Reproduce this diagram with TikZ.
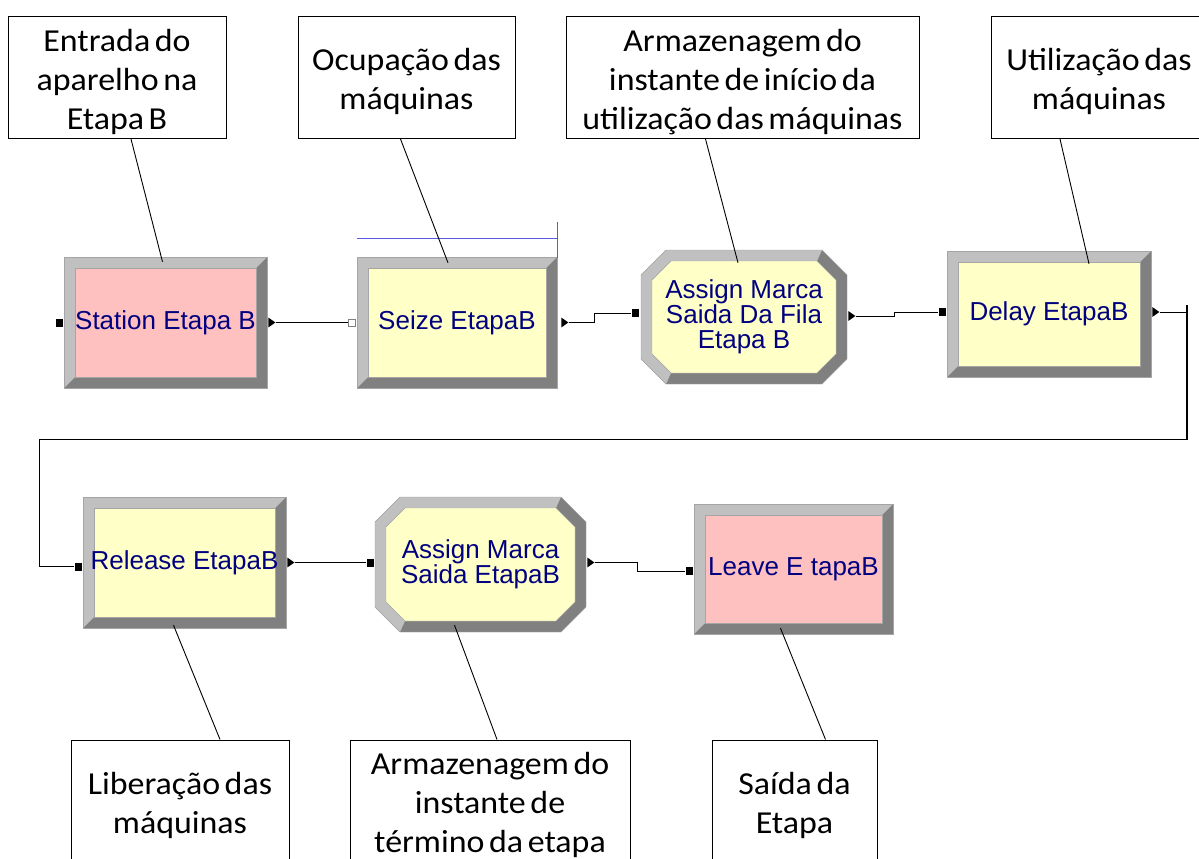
\documentclass[tikz,border=0pt]{standalone}
\usepackage{fontspec}
\usepackage{tikz}
\usetikzlibrary{shapes.geometric}
\newfontfamily\labelfont[FakeStretch=1.06, WordSpace=0.6]{Carlito}
\newfontfamily\modfont{Liberation Sans}
\definecolor{bevlight}{RGB}{192,192,192}
\definecolor{bevdark}{RGB}{128,128,128}
\definecolor{bevedge}{RGB}{165,165,165}
\definecolor{modpink}{RGB}{255,192,192}
\definecolor{modyellow}{RGB}{255,255,200}
\definecolor{modtext}{RGB}{0,0,128}
\definecolor{bracketblue}{RGB}{90,90,230}

\newcommand{\nstrut}{\rule{0pt}{31pt}}

\tikzset{
  note/.style={draw=black, line width=1pt, align=center, inner sep=0pt,
    font=\labelfont\fontsize{32}{39}\selectfont},
  module/.style={align=center, inner sep=0pt, text=modtext,
    font=\modfont\fontsize{26}{25}\selectfont},
  inport/.style={rectangle, fill=black, minimum width=7pt, minimum height=8pt, inner sep=0pt},
  inhollow/.style={rectangle, draw=bevdark, fill=white, minimum size=7pt, inner sep=0pt},
  outport/.style={isosceles triangle, fill=black, isosceles triangle apex angle=70,
    minimum size=7pt, inner sep=0pt},
  flow/.style={draw=black, line width=0.9pt}
}

% rectangular module: name, x1, y1, x2, y2, fill, text
\newcommand{\bevrect}[7]{%
  \fill[bevdark] (#2,#3) rectangle (#4,#5);
  \fill[bevlight] (#2,#5) -- (#2,#3) -- (#4,#3) -- (#4-11,#3+11) -- (#2+11,#3+11) -- (#2+11,#5-11) -- cycle;
  \draw[bevedge, fill=#6] (#2+11,#3+11) rectangle (#4-11,#5-11);
  \draw[bevedge] (#2,#3) rectangle (#4,#5);
  \node[module, minimum width={(#4-#2)*1pt}, minimum height={(#5-#3)*1pt}] (#1)
    at ({(#2+#4)/2},{(#3+#5)/2}) {#7};
}

% octagon module: name, x1, y1, x2, y2, fill, text
\newcommand{\bevoct}[7]{%
  \coordinate (o1) at (#2+25,#3);   \coordinate (o2) at (#4-25,#3);
  \coordinate (o3) at (#4,#3+25);   \coordinate (o4) at (#4,#5-25);
  \coordinate (o5) at (#4-25,#5);   \coordinate (o6) at (#2+25,#5);
  \coordinate (o7) at (#2,#5-25);   \coordinate (o8) at (#2,#3+25);
  \coordinate (i1) at (#2+30,#3+11); \coordinate (i2) at (#4-30,#3+11);
  \coordinate (i3) at (#4-11,#3+30); \coordinate (i4) at (#4-11,#5-30);
  \coordinate (i5) at (#4-30,#5-11); \coordinate (i6) at (#2+30,#5-11);
  \coordinate (i7) at (#2+11,#5-30); \coordinate (i8) at (#2+11,#3+30);
  \fill[bevdark] (o1) -- (o2) -- (o3) -- (o4) -- (o5) -- (o6) -- (o7) -- (o8) -- cycle;
  \fill[bevlight] (o6) -- (o7) -- (o8) -- (o1) -- (o2) -- (i2) -- (i1) -- (i8) -- (i7) -- (i6) -- cycle;
  \draw[bevedge, fill=#6] (i1) -- (i2) -- (i3) -- (i4) -- (i5) -- (i6) -- (i7) -- (i8) -- cycle;
  \draw[bevedge] (o1) -- (o2) -- (o3) -- (o4) -- (o5) -- (o6) -- (o7) -- (o8) -- cycle;
  \node[module, minimum width={(#4-#2)*1pt}, minimum height={(#5-#3)*1pt}] (#1)
    at ({(#2+#4)/2},{(#3+#5)/2}) {#7};
}

\begin{document}
\begin{tikzpicture}[x=1pt, y=-1pt]
    \clip (0,0) rectangle (1199,859);
    \fill[white] (0,0) rectangle (1199,859);

    % notes
    \node[note, minimum width=218pt, minimum height=122pt] (lab1) at (117,77.5) {\nstrut Entrada do\\aparelho na\\Etapa B};
    \node[note, minimum width=217pt, minimum height=122pt] (lab2) at (406.5,77.5) {\nstrut Ocupação das\\máquinas};
    \node[note, minimum width=353pt, minimum height=122pt] (lab3) at (742.5,77.5) {\nstrut Armazenagem do\\instante de início da\\utilização das máquinas};
    \node[note, minimum width=216pt, minimum height=122pt] (lab4) at (1099,77.5) {\nstrut Utilização das\\máquinas};
    \node[note, minimum width=218pt, minimum height=122pt] (lab5) at (180,801) {\nstrut Liberação das\\máquinas};
    \node[note, minimum width=280pt, minimum height=122pt] (lab6) at (490,801) {\nstrut Armazenagem do\\instante de\\término da etapa};
    \node[note, minimum width=165pt, minimum height=122pt] (lab7) at (794.5,801) {\nstrut Saída da\\Etapa};

    % modules
    \bevrect{stat}{64}{257}{267}{388}{modpink}{Station Etapa B}
    \bevrect{seize}{357}{257}{557}{388}{modyellow}{Seize EtapaB}
    \bevoct{asg1}{641}{250}{847}{384}{modyellow}{Assign Marca\\Saida Da Fila\\Etapa B}
    \bevrect{delay}{947}{251}{1151}{377}{modyellow}{Delay EtapaB}
    \bevrect{rel}{83}{497}{286}{628}{modyellow}{Release EtapaB}
    \bevoct{asg2}{375}{497}{586}{632}{modyellow}{Assign Marca\\Saida EtapaB}
    \bevrect{leave}{694}{504}{893}{634}{modpink}{Leave E tapaB}

    % ports
    \node[inport, anchor=east] (stat-in) at ([xshift=-1pt]stat.west) {};
    \node[outport, anchor=west] (stat-out) at ([xshift=1pt]stat.east) {};
    \node[inhollow, anchor=east] (seize-in) at ([xshift=-1pt]seize.west) {};
    \node[outport, anchor=west] (seize-out) at ([xshift=4pt]seize.east) {};
    \node[inport, anchor=east] (asg1-in) at ([xshift=-2pt,yshift=4pt]asg1.west) {};
    \node[outport, anchor=west] (asg1-out) at ([xshift=1pt,yshift=1pt]asg1.east) {};
    \node[inport, anchor=east] (delay-in) at ([xshift=-1pt,yshift=2pt]delay.west) {};
    \node[outport, anchor=west] (delay-out) at ([xshift=1pt,yshift=2pt]delay.east) {};
    \node[inport, anchor=east] (rel-in) at ([xshift=-1pt,yshift=-4pt]rel.west) {};
    \node[outport, anchor=west] (rel-out) at ([xshift=1pt]rel.east) {};
    \node[inport, anchor=east] (asg2-in) at ([xshift=-1pt,yshift=2pt]asg2.west) {};
    \node[outport, anchor=west] (asg2-out) at ([xshift=1pt,yshift=2pt]asg2.east) {};
    \node[inport, anchor=east] (leave-in) at ([xshift=-1pt,yshift=-2pt]leave.west) {};

    % connections
    \coordinate (turnR) at (1187,439);
    \coordinate (turnL) at (39,439);
    \draw[flow] (stat-out) -- (seize-in);
    \draw[flow] (seize-out) -- ++(30,0) |- (asg1-in);
    \draw[flow] (asg1-out) -- ++(43,0) |- (delay-in);
    \draw[flow] (delay-out) -| (turnR) -- (turnL) |- (rel-in);
    \draw[black, line width=1.6pt] ([yshift=7pt]turnR |- delay-out) -- (turnR);
    \draw[flow] (rel-out) -- (asg2-in);
    \draw[flow] (asg2-out) -- ++(47,0) |- (leave-in);

    % selection bracket over seize
    \draw[bracketblue, line width=1pt] ([yshift=18pt]seize.north west) -- ([yshift=18pt]seize.north east);
    \draw[bracketblue, line width=1pt] ([yshift=35pt]seize.north east) -- ([yshift=-1pt]seize.north east);

    % callouts
    \draw[line width=0.9pt] ([xshift=14pt]lab1.south) -- ([xshift=-3pt,yshift=-5pt]stat.north);
    \draw[line width=0.9pt] ([xshift=-6pt]lab2.south) -- ([xshift=-9pt,yshift=-6pt]seize.north);
    \draw[line width=0.9pt] ([xshift=-37pt]lab3.south) -- ([xshift=-6pt,yshift=-13pt]asg1.north);
    \draw[line width=0.9pt] ([xshift=-39pt]lab4.south) -- ([xshift=40pt,yshift=-13pt]delay.north);
    \draw[line width=0.9pt] ([xshift=-11pt,yshift=3pt]rel.south) -- ([xshift=40pt]lab5.north);
    \draw[line width=0.9pt] ([xshift=-26pt,yshift=7pt]asg2.south) -- ([xshift=7pt]lab6.north);
    \draw[line width=0.9pt] ([xshift=-13pt,yshift=6pt]leave.south) -- ([xshift=31pt]lab7.north);
\end{tikzpicture}
\end{document}
